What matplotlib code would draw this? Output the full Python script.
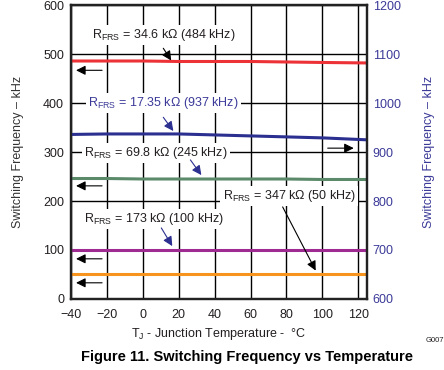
import numpy as np
import matplotlib
matplotlib.use('Agg')
import matplotlib.pyplot as plt

plt.rcParams['font.family'] = ['Liberation Sans', 'DejaVu Sans']
plt.rcParams['mathtext.fontset'] = 'custom'
plt.rcParams['mathtext.rm'] = 'Liberation Sans'

# Data
temp = [-40, -20, 0, 20, 40, 60, 80, 100, 125]
f_34k6 = [486, 486, 486, 485, 485, 485, 484, 483, 482]      # left axis
f_17k35 = [936, 937, 937, 937, 935, 933, 931, 929, 925]     # right axis
f_69k8 = [246, 246, 245, 245, 245, 245, 245, 244, 244]
f_173k = [100, 100, 100, 100, 100, 100, 100, 100, 100]
f_347k = [50, 50, 50, 50, 50, 50, 50, 50, 50]

xticks = [-40, -20, 0, 20, 40, 60, 80, 100, 120]
left_ticks = [0, 100, 200, 300, 400, 500, 600]
right_ticks = [600, 700, 800, 900, 1000, 1100, 1200]

dark = '#231f20'
blue_txt = '#3b3a98'

fig = plt.figure(figsize=(4.44, 3.70), dpi=100)
ax = fig.add_axes([0.160, 0.192, 0.667, 0.794])
ax2 = ax.twinx()

ax.plot(temp, f_34k6, color='#ed3237', lw=2.2)
ax.plot(temp, f_69k8, color='#5b8a6b', lw=2.2)
ax.plot(temp, f_173k, color='#9e2a92', lw=2.2)
ax.plot(temp, f_347k, color='#f7941d', lw=2.2)
ax2.plot(temp, f_17k35, color='#2b2f8f', lw=2.2)

ax.set_xlim(-40, 125)
ax.set_ylim(0, 600)
ax2.set_ylim(600, 1200)
ax.set_xticks(xticks)
ax.set_yticks(left_ticks)
ax2.set_yticks(right_ticks)
ax.set_xticklabels(['\u221240', '\u221220', '0', '20', '40', '60', '80', '100', '120'])
ax.grid(True, color='black', lw=1)
ax.set_axisbelow(True)
ax.tick_params(axis='y', length=0, labelsize=9, colors=dark, pad=5)
ax.tick_params(axis='x', length=0, labelsize=9, colors=dark, pad=7)
ax2.tick_params(length=0, labelsize=9, colors=blue_txt, pad=4)
for a in (ax, ax2):
    for s in a.spines.values():
        s.set_linewidth(1.6)
        s.set_color('#222222')

ax.set_ylabel('Switching Frequency \u2013 kHz', fontsize=9, color='#333333', labelpad=14)
ax2.set_ylabel('Switching Frequency \u2013 kHz', fontsize=9, color=blue_txt, labelpad=16)
ax.set_xlabel(r'T$_\mathrm{J}$ - Junction Temperature -  °C', fontsize=9, color=dark, labelpad=4)

box = dict(facecolor='white', edgecolor='none', pad=1.5)
ax.text(-28.3, 539, r'R$_\mathrm{FRS}$ = 34.6 kΩ (484 kHz)', fontsize=9, color=dark, va='center', bbox=box)
ax.text(-30.5, 400, r'R$_\mathrm{FRS}$ = 17.35 kΩ (937 kHz)', fontsize=9, color=blue_txt, va='center', bbox=box)
ax.text(-32.7, 298, r'R$_\mathrm{FRS}$ = 69.8 kΩ (245 kHz)', fontsize=9, color=dark, va='center', bbox=box)
ax.text(-32.7, 163, r'R$_\mathrm{FRS}$ = 173 kΩ (100 kHz)', fontsize=9, color=dark, va='center', bbox=box)
ax.text(44.4, 210, r'R$_\mathrm{FRS}$ = 347 kΩ (50 kHz)', fontsize=9, color=dark, va='center', bbox=box)

def arrow(tail, head, color):
    ax.annotate('', xy=head, xytext=tail,
                arrowprops=dict(arrowstyle='-|>', color=color, lw=0.8, mutation_scale=14,
                                shrinkA=0, shrinkB=0))

arrow((11.4, 512), (15.8, 487), 'black')
arrow((11.4, 371), (17.0, 343), '#2b2f8f')
arrow((26.5, 284), (32.6, 253), '#2b2f8f')
arrow((10.3, 145), (16.4, 108), '#2b2f8f')
arrow((77.9, 188), (96.3, 58), 'black')

# axis indicator arrows
for yy in [467, 231, 82, 33]:
    arrow((-22.7, yy), (-37.2, yy), 'black')
arrow((103, 308), (117.5, 308), 'black')

fig.text(0.98, 0.079, 'G007', fontsize=5.5, color=dark, ha='center', va='center')
fig.text(0.556, 0.035, 'Figure 11. Switching Frequency vs Temperature', fontsize=10.5,
         fontweight='bold', color='black', ha='center', va='center')

fig.savefig('out.png', dpi=100)
